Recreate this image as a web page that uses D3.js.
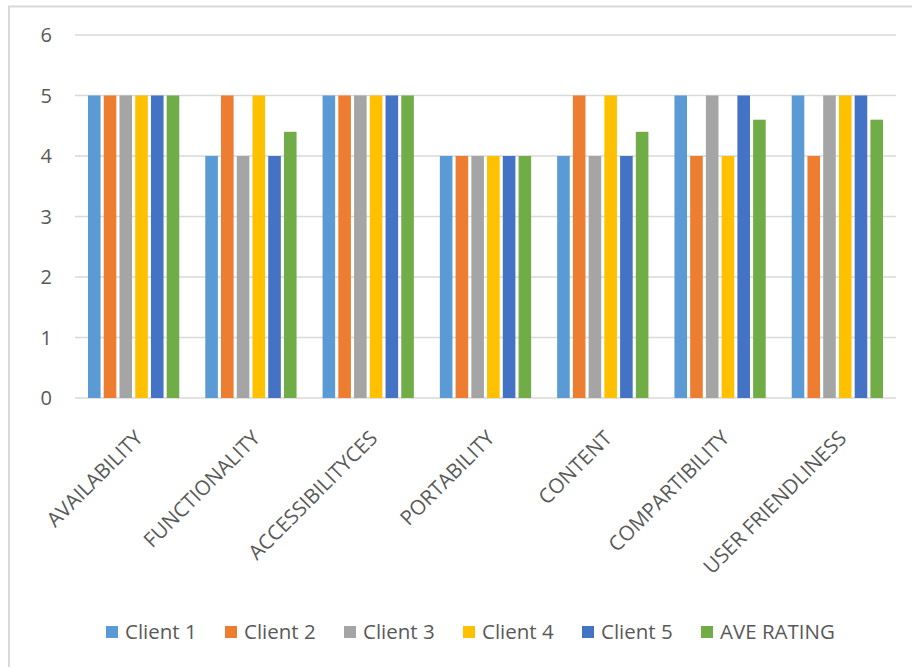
<!DOCTYPE html>
<html>
<head>
<meta charset="utf-8">
<script src="https://cdn.jsdelivr.net/npm/d3@7"></script>
<style>
  body { margin: 0; background: #fff; }
  text { font-family: "Open Sans", sans-serif; fill: #595959; }
</style>
</head>
<body>
<svg id="chart" width="912" height="667"></svg>
<script>
var categories = ["AVAILABILITY", "FUNCTIONALITY", "ACCESSIBILITYCES", "PORTABILITY",
                  "CONTENT", "COMPARTIBILITY", "USER FRIENDLINESS"];
var seriesNames = ["Client 1", "Client 2", "Client 3", "Client 4", "Client 5", "AVE RATING"];
var client1 = [5, 4, 5, 4, 4, 5, 5];
var client2 = [5, 5, 5, 4, 5, 4, 4];
var client3 = [5, 4, 5, 4, 4, 5, 5];
var client4 = [5, 5, 5, 4, 5, 4, 5];
var client5 = [5, 4, 5, 4, 4, 5, 5];
var aveRating = [5, 4.4, 5, 4, 4.4, 4.6, 4.6];
var yTicks = [0, 1, 2, 3, 4, 5, 6];
var colors = ["#5B9BD5", "#ED7D31", "#A5A5A5", "#FFC000", "#4472C4", "#70AD47"];

var allSeries = [client1, client2, client3, client4, client5, aveRating];

var svg = d3.select("#chart");

// chart border (only top and left visible in the picture)
svg.append("path")
    .attr("d", "M9,667V6.5H912")
    .attr("fill", "none")
    .attr("stroke", "#d9d9d9")
    .attr("stroke-width", 2);

var plot = {left: 75, right: 896, top: 35, bottom: 398};

var x0 = d3.scaleBand()
    .domain(categories)
    .range([plot.left, plot.right]);

var x1 = d3.scaleBand()
    .domain(seriesNames)
    .range([13, x0.bandwidth() - 13])
    .paddingInner(0.2);

var y = d3.scaleLinear()
    .domain([0, 6])
    .range([plot.bottom, plot.top]);

// gridlines
svg.append("g")
    .selectAll("line")
    .data(yTicks)
    .enter().append("line")
    .attr("x1", plot.left)
    .attr("x2", plot.right)
    .attr("y1", function(d) { return y(d); })
    .attr("y2", function(d) { return y(d); })
    .attr("stroke", "#d9d9d9")
    .attr("stroke-width", 1.5);

// y tick labels
svg.append("g")
    .selectAll("text")
    .data(yTicks)
    .enter().append("text")
    .attr("x", 52)
    .attr("y", function(d) { return y(d); })
    .attr("dy", "0.36em")
    .attr("text-anchor", "end")
    .style("font-size", "20px")
    .text(function(d) { return d; });

// bars
var groups = svg.append("g")
    .selectAll("g")
    .data(categories)
    .enter().append("g")
    .attr("transform", function(d) { return "translate(" + x0(d) + ",0)"; });

groups.selectAll("rect")
    .data(function(d, i) {
        return allSeries.map(function(s, j) { return {name: seriesNames[j], value: s[i], color: colors[j]}; });
    })
    .enter().append("rect")
    .attr("x", function(d) { return x1(d.name); })
    .attr("width", x1.bandwidth())
    .attr("y", function(d) { return y(d.value); })
    .attr("height", function(d) { return y(0) - y(d.value); })
    .attr("fill", function(d) { return d.color; });

// category labels, rotated
svg.append("g")
    .selectAll("text")
    .data(categories)
    .enter().append("text")
    .attr("transform", function(d) {
        return "translate(" + (x0(d) + x0.bandwidth() / 2) + "," + 429 + ") rotate(-45)";
    })
    .attr("text-anchor", "end")
    .attr("dy", "0.72em")
    .style("font-size", "20.5px")
    .text(function(d) { return d; });

// legend
var legend = svg.append("g")
    .selectAll("g")
    .data(seriesNames)
    .enter().append("g")
    .attr("transform", function(d, i) { return "translate(" + (106 + i * 119) + ",632)"; });

legend.append("rect")
    .attr("x", 0)
    .attr("y", -6)
    .attr("width", 12)
    .attr("height", 12)
    .attr("fill", function(d, i) { return colors[i]; });

legend.append("text")
    .attr("x", 19)
    .attr("dy", "0.36em")
    .style("font-size", "20.5px")
    .text(function(d) { return d; });
</script>
</body>
</html>
